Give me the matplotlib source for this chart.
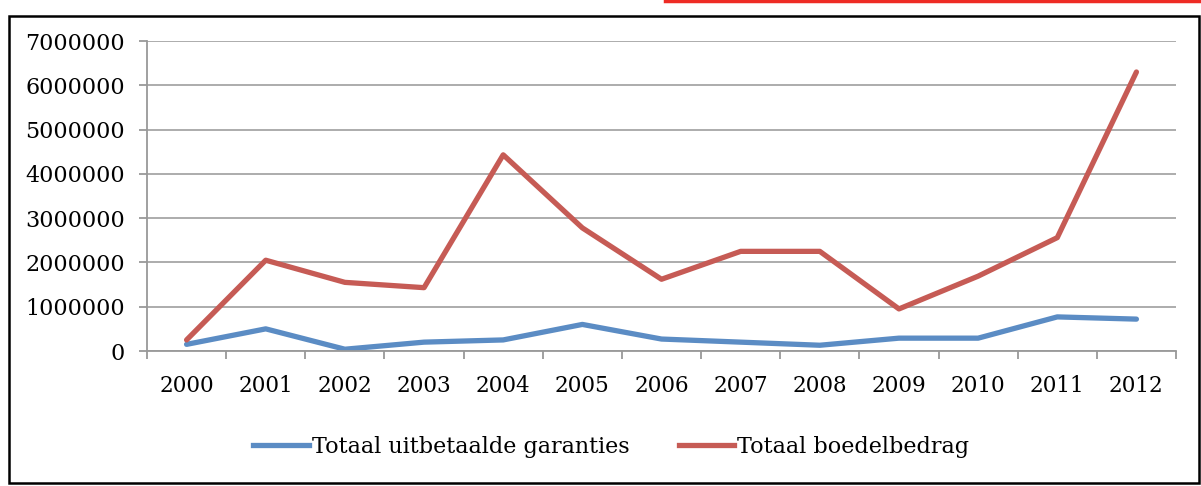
import matplotlib
matplotlib.use("Agg")
import matplotlib.pyplot as plt
from matplotlib.patches import Rectangle
from matplotlib.lines import Line2D
from matplotlib.ticker import FixedLocator

years = ["2000", "2001", "2002", "2003", "2004", "2005", "2006",
         "2007", "2008", "2009", "2010", "2011", "2012"]
garanties = [150000, 500000, 40000, 200000, 250000, 600000, 270000,
             200000, 130000, 290000, 290000, 770000, 720000]
boedel = [250000, 2050000, 1550000, 1430000, 4430000, 2780000, 1620000,
          2250000, 2250000, 950000, 1690000, 2560000, 6300000]
label_g = "Totaal uitbetaalde garanties"
label_b = "Totaal boedelbedrag"
yticks = [0, 1000000, 2000000, 3000000, 4000000, 5000000, 6000000, 7000000]

plt.rcParams['font.family'] = ['DejaVu Serif']

W, H = 1201, 486
fig = plt.figure(figsize=(W / 100, H / 100), dpi=100)
ax = fig.add_axes([147 / W, 1 - 351 / H, (1176 - 147) / W, (351 - 41) / H])

x = list(range(len(years)))
blue = "#5b8cc4"
red = "#c65b55"
ax.plot(x, garanties, color=blue, lw=3.8, solid_capstyle="round", solid_joinstyle="round")
ax.plot(x, boedel, color=red, lw=3.8, solid_capstyle="round", solid_joinstyle="round")

ax.set_xlim(-0.5, len(years) - 0.5)
ax.set_ylim(0, 7000000)
ax.set_yticks(yticks)
ax.set_yticklabels([str(v) for v in yticks])
ax.set_xticks(x)
ax.set_xticklabels(years)
ax.xaxis.set_minor_locator(FixedLocator([i - 0.5 for i in range(len(years) + 1)]))
ax.tick_params(axis="x", which="major", length=0, pad=17, labelsize=15.5)
ax.tick_params(axis="x", which="minor", length=6, width=1.3, color="#999999")
ax.tick_params(axis="y", length=6, width=1.3, color="#999999", labelsize=16, pad=10)
ax.grid(axis="y", color="#a6a6a6", lw=1.3)
ax.set_axisbelow(True)
for s in ["top", "right"]:
    ax.spines[s].set_visible(False)
ax.spines["left"].set_color("#999999")
ax.spines["bottom"].set_color("#999999")
ax.spines["left"].set_linewidth(1.3)
ax.spines["bottom"].set_linewidth(1.3)

handles = [Line2D([], [], color=blue, lw=3.8), Line2D([], [], color=red, lw=3.8)]
fig.legend(handles, [label_g, label_b], loc="center", bbox_to_anchor=(0.509, 1 - 447 / H),
           ncol=2, frameon=False, fontsize=16, handlelength=2.5, handletextpad=0.15,
           columnspacing=2.2)

fig.patches.append(Rectangle((9 / W, 1 - 483 / H), (1199 - 9) / W, (483 - 16) / H,
                             transform=fig.transFigure, fill=False, edgecolor="black", lw=1.8))
fig.lines.append(Line2D([665 / W, 1], [1 - 1.5 / H, 1 - 1.5 / H], transform=fig.transFigure,
                        color="#ee2b24", lw=2.5))

fig.savefig("out.png", dpi=100)
